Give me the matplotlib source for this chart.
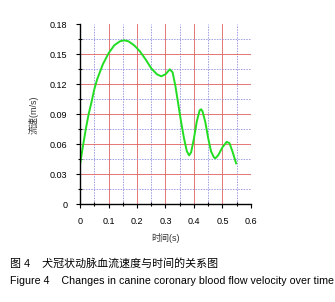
import numpy as np
import matplotlib
matplotlib.use('Agg')
import matplotlib.pyplot as plt
from matplotlib.ticker import MultipleLocator

plt.rcParams['font.family'] = ['Liberation Sans', 'Noto Sans CJK SC', 'DejaVu Sans']

# values
time_s = [0.0, 0.01, 0.02, 0.03, 0.04, 0.05, 0.06, 0.08, 0.10, 0.12, 0.14, 0.155,
          0.17, 0.19, 0.21, 0.23, 0.25, 0.27, 0.285, 0.30, 0.315, 0.325, 0.335,
          0.345, 0.355, 0.365, 0.375, 0.383, 0.39, 0.40, 0.41, 0.42, 0.425, 0.43,
          0.44, 0.45, 0.46, 0.47, 0.475, 0.485, 0.50, 0.515, 0.525, 0.535, 0.548]
velocity = [0.040, 0.058, 0.075, 0.090, 0.102, 0.115, 0.125, 0.140, 0.151, 0.159,
            0.163, 0.164, 0.163, 0.159, 0.153, 0.145, 0.136, 0.130, 0.128, 0.130,
            0.135, 0.132, 0.118, 0.100, 0.082, 0.066, 0.053, 0.049, 0.052, 0.066,
            0.083, 0.094, 0.095, 0.093, 0.082, 0.066, 0.053, 0.047, 0.046, 0.049,
            0.057, 0.0625, 0.061, 0.053, 0.041]

xticks = [0, 0.1, 0.2, 0.3, 0.4, 0.5, 0.6]
xticklabels = ['0', '0.1', '0.2', '0.3', '0.4', '0.5', '0.6']
yticks = [0, 0.03, 0.06, 0.09, 0.12, 0.15, 0.18]
yticklabels = ['0', '0.03', '0.06', '0.09', '0.12', '0.15', '0.18']

xlabel = '时间(s)'
ylabel = '流速(m/s)'
caption_cn = '图 4    犬冠状动脉血流速度与时间的关系图'
caption_en = 'Figure 4    Changes in canine coronary blood flow velocity over time'

fig = plt.figure(figsize=(3.35, 3.02), dpi=100)
ax = fig.add_axes([0.239, 0.3235, 0.51, 0.596])

ax.set_xlim(0, 0.6)
ax.set_ylim(0, 0.18)
ax.xaxis.set_minor_locator(MultipleLocator(0.05))
ax.yaxis.set_minor_locator(MultipleLocator(0.015))
ax.set_xticks(xticks)
ax.set_xticklabels(xticklabels)
ax.set_yticks(yticks)
ax.set_yticklabels(yticklabels)

# grid: red solid on majors, blue dashed on minors
ax.grid(which='major', color='#e06060', lw=0.6, ls='-')
ax.grid(which='minor', color='#8888dd', lw=0.55, ls=(0, (2, 1.5)))
ax.set_axisbelow(True)
# no grid line on the outer edges (0.6 and 0.18)
ax.get_xgridlines()[-1].set_visible(False)
ax.get_ygridlines()[-1].set_visible(False)

for s in ['top', 'right']:
    ax.spines[s].set_visible(False)
for s in ['left', 'bottom']:
    ax.spines[s].set_linewidth(1.0)

ax.tick_params(which='major', direction='out', length=3, width=0.8,
               labelsize=6.5, pad=6)
ax.tick_params(which='minor', direction='inout', length=3, width=0.8)

ax.plot(time_s, velocity, '-', color='#22dd22', lw=1.4)

ax.set_xlabel(xlabel, fontsize=6.5, color='#333333', labelpad=5)
ax.set_ylabel(ylabel, fontsize=6.5, color='#333333', labelpad=8)

fig.text(10 / 335, 1 - 263 / 302, caption_cn, fontsize=7.9, va='center', ha='left')
fig.text(10 / 335, 1 - 281 / 302, caption_en, fontsize=7.7, va='center', ha='left')

fig.savefig('out.png', dpi=100)
